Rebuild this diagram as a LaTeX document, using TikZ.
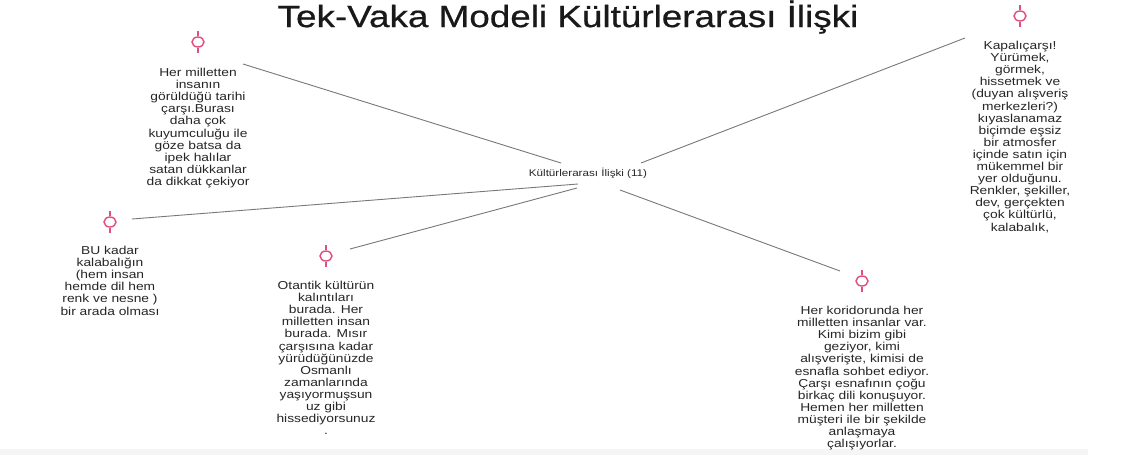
\documentclass[tikz,border=0pt]{standalone}
\usepackage{fontspec}
\setmainfont{Liberation Sans}
\newfontfamily\widesans[FakeStretch=1.2]{Liberation Sans}
\newfontfamily\widesanstitle[FakeStretch=1.2,FakeBold=0.6]{Liberation Sans}
\usetikzlibrary{shapes.geometric}
\definecolor{pinkpin}{RGB}{226,78,128}
\definecolor{linkgray}{RGB}{120,120,120}
\definecolor{txt}{RGB}{38,38,38}
\tikzset{
  pinhead/.style={ellipse,draw=pinkpin,line width=1.4pt,fill=white,
    minimum width=12pt,minimum height=10pt,inner sep=0pt},
  pinstem/.style={draw=pinkpin,line width=1.4pt},
  note/.style={align=center,text=txt,font=\widesans\fontsize{11.5}{12.1}\selectfont,
    inner sep=0pt,anchor=north},
  link/.style={draw=linkgray,line width=0.9pt},
  hub/.style={text=txt,font=\widesans\fontsize{9.7}{12}\selectfont,inner sep=1pt}
}
\begin{document}
\begin{tikzpicture}[x=1pt,y=-1pt]
\useasboundingbox (0,0) rectangle (1126,455);
\fill[white] (0,0) rectangle (1126,455);
\fill[black!4] (0,449) rectangle (1088,455);

% title
\node[font=\widesanstitle\fontsize{30.7}{34}\selectfont,text=black!90] (title) at (568,17)
  {Tek-Vaka Modeli Kültürlerarası İlişki};

% hub
\node[hub] (hub) at (588,173) {Kültürlerarası İlişki (11)};

% pins
\node[pinhead] (p1) at (198,42) {};
\node[pinhead] (p2) at (1020,16) {};
\node[pinhead] (p3) at (110,222) {};
\node[pinhead] (p4) at (326,256) {};
\node[pinhead] (p5) at (862,281) {};
\foreach \p in {p1,p2,p3,p4,p5}{
  \draw[pinstem] (\p.north) -- ++(0,-5);
  \draw[pinstem] (\p.south) -- ++(0,5);
}

% notes
\node[note] (n1) at (198,68) {Her milletten\\insanın\\görüldüğü tarihi\\çarşı.Burası\\daha çok\\kuyumculuğu ile\\göze batsa da\\ipek halılar\\satan dükkanlar\\da dikkat çekiyor};
\node[note] (n2) at (1020,41) {Kapalıçarşı!\\Yürümek,\\görmek,\\hissetmek ve\\(duyan alışveriş\\merkezleri?)\\kıyaslanamaz\\biçimde eşsiz\\bir atmosfer\\içinde satın için\\mükemmel bir\\yer olduğunu.\\Renkler, şekiller,\\dev, gerçekten\\çok kültürlü,\\kalabalık,};
\node[note] (n3) at (110,246) {BU kadar\\kalabalığın\\(hem insan\\hemde dil hem\\renk ve nesne )\\bir arada olması};
\node[note] (n4) at (326,281) {Otantik kültürün\\kalıntıları\\burada. Her\\milletten insan\\burada. Mısır\\çarşısına kadar\\yürüdüğünüzde\\Osmanlı\\zamanlarında\\yaşıyormuşsun\\uz gibi\\hissediyorsunuz\\.};
\node[note] (n5) at (862,306) {Her koridorunda her\\milletten insanlar var.\\Kimi bizim gibi\\geziyor, kimi\\alışverişte, kimisi de\\esnafla sohbet ediyor.\\Çarşı esnafının çoğu\\birkaç dili konuşuyor.\\Hemen her milletten\\müşteri ile bir şekilde\\anlaşmaya\\çalışıyorlar.};

% connector ends
\coordinate (a1) at (243,64);
\coordinate (b1) at (561,163);
\coordinate (a2) at (965,38);
\coordinate (b2) at (641,163);
\coordinate (a3) at (132,219);
\coordinate (b3) at (578,184);
\coordinate (a4) at (350,249);
\coordinate (b4) at (577,188);
\coordinate (a5) at (840,271);
\coordinate (b5) at (620,190);

\draw[link] (a1) -- (b1);
\draw[link] (a2) -- (b2);
\draw[link] (a3) -- (b3);
\draw[link] (a4) -- (b4);
\draw[link] (a5) -- (b5);
\end{tikzpicture}
\end{document}
